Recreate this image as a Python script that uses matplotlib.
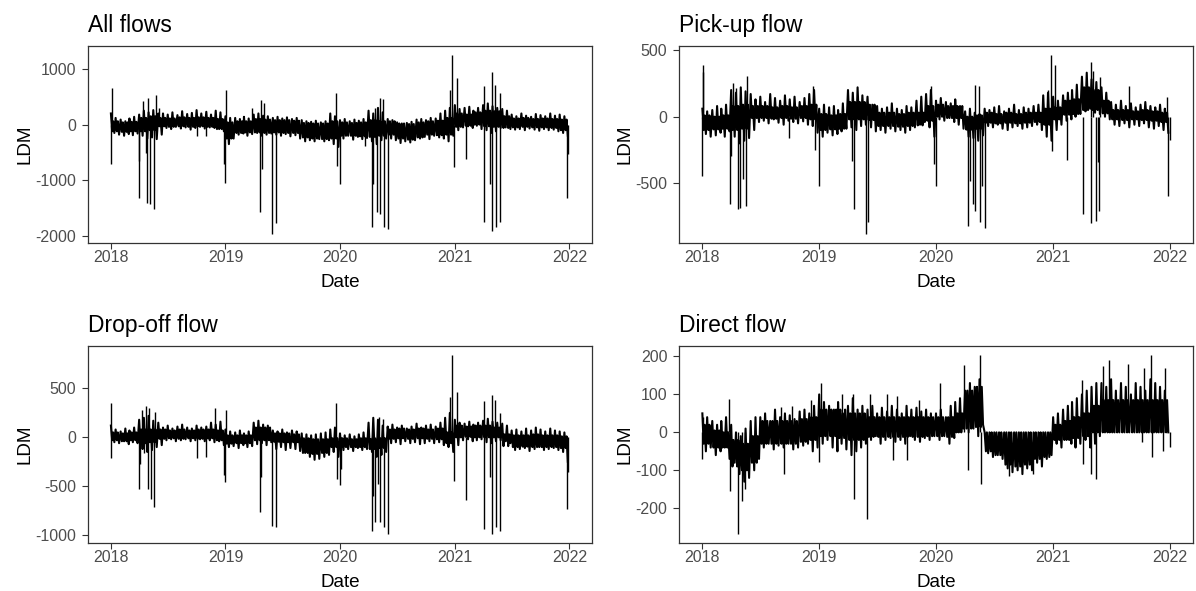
import numpy as np
import pandas as pd
import matplotlib

matplotlib.use("Agg")
import matplotlib.pyplot as plt  # noqa: E402
import matplotlib.dates as mdates  # noqa: E402

plt.rcParams["font.family"] = ["Liberation Sans", "DejaVu Sans"]
plt.rcParams["axes.unicode_minus"] = False

# Outer edge of the daily band, read every half month (1st and 16th), 2018-2021
ALL_HI = [200, 120, 90, 60, 110, 140, 180, 250, 220, 260, 200, 200, 180, 220, 170, 240, 190, 210, 260, 200, 230, 180, 250, 220,
          150, 120, 120, 100, 140, 110, 180, 200, 160, 150, 120, 140, 110, 130, 100, 120, 80, 60, 50, 70, 40, 60, 200, 150,
          80, 100, 60, 90, 70, 100, 250, 200, 300, 220, 100, 80, 40, 20, 30, 50, 90, 100, 80, 120, 110, 200, 250, 300,
          350, 280, 300, 320, 250, 300, 350, 380, 330, 300, 280, 250, 180, 150, 200, 160, 140, 190, 170, 150, 200, 160, 180, 150]
ALL_LO = [-150, -180, -200, -170, -190, -160, -200, -250, -230, -260, -180, -60, -80, -40, -70, -50, -90, -60, -40, -70, -50, -60, -80, -120,
          -350, -250, -180, -160, -200, -170, -150, -200, -180, -160, -180, -200, -170, -210, -190, -250, -300, -280, -300, -260, -300, -280, -350, -400,
          -250, -200, -270, -220, -260, -240, -300, -350, -280, -250, -250, -280, -330, -300, -320, -280, -250, -220, -260, -200, -230, -250, -300, -200,
          -100, -50, -30, -60, -20, -80, -100, -150, -120, -60, -50, -80, -90, -80, -100, -70, -90, -110, -80, -100, -90, -120, -150, -200]
# Solid core of the band, read monthly
ALL_CORE_HI = [60, 40, 50, 120, 150, 120, 110, 130, 120, 130, 120, 100,
               40, 60, 60, 100, 90, 80, 80, 70, 30, 20, 20, 60,
               40, 30, 40, 80, 60, 60, 20, 10, 40, 60, 70, 120,
               200, 180, 220, 250, 240, 150, 110, 120, 100, 110, 100, 90]
ALL_CORE_LO = [-120, -130, -120, -120, -100, -30, -40, -30, -40, -30, -40, -80,
               -250, -150, -140, -140, -150, -140, -150, -150, -230, -250, -260, -250,
               -200, -200, -210, -220, -200, -180, -250, -270, -230, -180, -190, -180,
               -40, -20, 0, -30, -40, -60, -50, -40, -50, -50, -60, -100]
ALL_SPIKES = [("2018-01-01", -714), ("2018-01-03", 655), ("2018-03-30", -650), ("2018-04-01", -1310), ("2018-04-13", 417),
              ("2018-04-22", -506), ("2018-04-26", -1400), ("2018-04-28", 476), ("2018-05-07", -1430), ("2018-05-19", -1520),
              ("2018-05-26", 536), ("2018-06-02", 300), ("2018-10-01", -210), ("2018-10-31", -210), ("2018-12-26", -714),
              ("2018-12-31", -1040), ("2019-01-03", 613), ("2019-03-28", 300), ("2019-04-20", -1577), ("2019-04-24", 446),
              ("2019-04-28", -790), ("2019-05-05", 387), ("2019-05-29", -1964), ("2019-06-10", -1774), ("2019-12-20", 565),
              ("2019-12-23", -744), ("2019-12-31", -1071), ("2020-03-22", -387), ("2020-04-11", -1845), ("2020-04-15", -1071),
              ("2020-04-21", 300), ("2020-04-29", -1577), ("2020-05-08", 476), ("2020-05-09", -1607), ("2020-05-18", 460),
              ("2020-05-20", -1845), ("2020-06-01", -1875), ("2020-12-18", 625), ("2020-12-24", 1250), ("2020-12-29", -762),
              ("2021-01-08", 845), ("2021-02-06", -625), ("2021-04-04", -1756), ("2021-04-05", 684), ("2021-04-24", -1071),
              ("2021-04-28", 940), ("2021-04-30", -1905), ("2021-05-10", 715), ("2021-05-12", -1845), ("2021-05-24", -1756),
              ("2021-05-26", 565), ("2021-12-24", -1310), ("2021-12-29", -536)]

PICK_HI = [60, 40, 50, 80, 60, 90, 200, 180, 220, 190, 170, 130, 150, 110, 170, 140, 120, 160, 130, 150, 110, 140, 170, 200,
           60, 90, 70, 80, 50, 100, 200, 180, 220, 160, 150, 90, 80, 60, 70, 100, 60, 50, 80, 70, 120, 150, 170, 200,
           120, 140, 110, 100, 130, 80, 40, 60, 30, 20, 60, 50, 70, 80, 40, 60, 90, 50, 70, 60, 80, 90, 160, 180,
           150, 120, 160, 180, 200, 240, 300, 330, 280, 260, 220, 180, 110, 90, 120, 80, 100, 70, 90, 110, 80, 70, 90, 60]
PICK_LO = [-130, -150, -140, -120, -150, -110, -150, -200, -180, -160, -100, -40, -30, -50, -20, -45, -60, -30, -40, -50, -35, -60, -70, -120,
           -150, -120, -140, -130, -110, -90, -80, -100, -70, -60, -80, -110, -100, -120, -90, -110, -100, -120, -100, -80, -60, -40, -80, -150,
           -20, -30, -10, -40, -60, -90, -150, -160, -180, -140, -70, -80, -60, -90, -100, -80, -70, -90, -80, -70, -60, -100, -150, -180,
           -100, -60, -30, -20, 0, 20, 40, 60, 30, 20, 0, -20, -60, -70, -50, -80, -60, -70, -50, -80, -90, -70, -100, -120]
PICK_CORE_HI = [10, 0, 10, 80, 90, 80, 80, 70, 80, 70, 80, 90,
                20, 10, 20, 110, 110, 90, 30, 30, 20, 30, 30, 80,
                90, 80, 80, 0, 10, 30, 20, 30, 20, 30, 30, 60,
                70, 120, 130, 220, 200, 120, 50, 50, 40, 50, 40, 30]
PICK_CORE_LO = [-100, -95, -90, -100, -90, -10, -10, -15, -10, -15, -10, -20,
                -100, -95, -90, -20, -20, -25, -70, -70, -75, -70, -65, -30,
                0, -10, -10, -97, -90, -45, -50, -45, -50, -45, -40, -60,
                -20, 15, 20, 50, 50, 25, -20, -25, -20, -25, -30, -40]
PICK_SPIKES = [("2018-01-01", -445), ("2018-01-02", 388), ("2018-01-04", 338), ("2018-03-29", -657), ("2018-04-01", -296),
               ("2018-04-08", 254), ("2018-04-15", 216), ("2018-04-22", -694), ("2018-04-30", -682), ("2018-05-07", -470),
               ("2018-05-16", -670), ("2018-05-20", 306), ("2018-09-28", -157), ("2018-12-12", 230), ("2018-12-20", -246),
               ("2018-12-31", -520), ("2019-04-15", -333), ("2019-04-20", -694), ("2019-05-26", -880), ("2019-06-03", -786),
               ("2019-12-15", 230), ("2019-12-27", -358), ("2019-12-31", -520), ("2020-04-10", -818), ("2020-04-15", -483),
               ("2020-04-27", -657), ("2020-05-02", -706), ("2020-05-03", 240), ("2020-05-14", 230), ("2020-05-19", -793),
               ("2020-05-24", -520), ("2020-06-01", -831), ("2020-12-16", 200), ("2020-12-24", 463), ("2020-12-27", -259),
               ("2021-01-08", 388), ("2021-02-12", -321), ("2021-04-05", -731), ("2021-04-28", -800), ("2021-04-30", 413),
               ("2021-05-05", 340), ("2021-05-15", -781), ("2021-05-21", -343), ("2021-05-24", -706), ("2021-05-26", 300),
               ("2021-08-25", 230), ("2021-12-24", 150), ("2021-12-26", -594), ("2021-12-31", -175)]

DROP_HI = [120, 80, 60, 90, 70, 100, 180, 200, 220, 170, 150, 100, 120, 90, 110, 130, 100, 90, 120, 100, 110, 150, 130, 160,
           80, 60, 50, 70, 40, 60, 150, 170, 130, 120, 70, 60, 80, 50, 70, 60, 40, 30, 20, 30, 40, 50, 80, 100,
           40, 20, 30, 10, 30, 50, 150, 200, 180, 120, 110, 130, 100, 120, 90, 110, 140, 100, 120, 130, 110, 150, 200, 250,
           180, 150, 140, 160, 130, 150, 170, 190, 160, 150, 140, 120, 70, 80, 60, 90, 70, 100, 80, 60, 90, 70, 60, 50]
DROP_LO = [-50, -60, -40, -70, -50, -60, -120, -150, -130, -100, -80, -30, -20, -40, -30, -20, -40, -30, -20, -40, -30, -50, -40, -80,
           -100, -90, -110, -80, -100, -90, -70, -60, -80, -50, -120, -100, -130, -110, -120, -140, -160, -200, -230, -220, -200, -180, -150, -200,
           -130, -120, -140, -110, -130, -120, -150, -200, -180, -150, -60, -50, -70, -40, -60, -50, -70, -60, -40, -60, -50, -80, -100, -150,
           -80, -30, -20, -40, -30, -20, -50, -60, -40, -30, -40, -60, -130, -120, -110, -140, -120, -100, -130, -120, -110, -130, -150, -250]
DROP_CORE_HI = [50, 40, 50, 80, 80, 80, 70, 80, 70, 80, 80, 70,
                20, 20, 20, 100, 100, 40, 40, 30, -10, -20, -20, -10,
                -10, -20, -10, -20, -10, 80, 90, 80, 90, 80, 90, 50,
                120, 110, 120, 120, 100, 30, 20, 20, 30, 20, 20, 10]
DROP_CORE_LO = [-30, -40, -30, -60, -50, -15, -10, -15, -10, -15, -10, -30,
                -65, -60, -60, -30, -30, -45, -50, -50, -160, -170, -160, -100,
                -100, -100, -100, -120, -110, -15, -10, -15, -10, -15, -20, -60,
                0, 5, 0, 0, 0, -90, -100, -95, -100, -100, -100, -110]
DROP_SPIKES = [("2018-01-01", -216), ("2018-01-02", 350), ("2018-03-31", -527), ("2018-04-03", -270), ("2018-04-10", 277),
               ("2018-04-18", -165), ("2018-04-22", 318), ("2018-04-28", -527), ("2018-05-02", 300), ("2018-05-10", -630),
               ("2018-05-19", -716), ("2018-05-22", 260), ("2018-10-01", -216), ("2018-10-31", -200), ("2018-11-30", 300),
               ("2018-12-26", -390), ("2018-12-31", -460), ("2019-01-03", 277), ("2019-04-20", -767), ("2019-04-24", -407),
               ("2019-05-29", -904), ("2019-06-10", -914), ("2019-12-20", 350), ("2019-12-23", -425), ("2019-12-31", -483),
               ("2020-01-04", -323), ("2020-04-11", -955), ("2020-04-15", -596), ("2020-04-23", -870), ("2020-05-02", -476),
               ("2020-05-05", 209), ("2020-05-08", -870), ("2020-05-17", 190), ("2020-05-19", -921), ("2020-06-01", -990),
               ("2020-12-18", 414), ("2020-12-24", 843), ("2020-12-29", -442), ("2021-01-07", 466), ("2021-02-06", -640),
               ("2021-04-04", -935), ("2021-04-05", 370), ("2021-04-24", -407), ("2021-04-28", 432), ("2021-04-30", -990),
               ("2021-05-10", 387), ("2021-05-12", -921), ("2021-05-24", -955), ("2021-05-26", 250), ("2021-12-24", -733),
               ("2021-12-29", -357)]

DIRECT_HI = [50, 40, 30, 20, 30, 40, 20, 0, -10, 10, 30, 40, 40, 50, 30, 60, 40, 50, 45, 35, 55, 60, 50, 70,
             100, 80, 70, 60, 80, 50, 70, 90, 60, 70, 60, 70, 50, 65, 55, 70, 60, 50, 70, 60, 65, 55, 60, 50,
             50, 60, 40, 70, 80, 90, 110, 130, 120, 140, 0, 0, 0, 0, 0, 0, 0, 0, 0, 0, 0, 0, 0, 0,
             40, 50, 60, 70, 80, 90, 100, 110, 120, 130, 130, 120, 140, 110, 130, 120, 100, 130, 120, 110, 140, 130, 120, 110]
DIRECT_LO = [-50, -40, -60, -50, -40, -70, -80, -110, -130, -120, -100, -70, -40, -30, -45, -35, -40, -30, -45, -40, -35, -30, -50, -40,
             -30, -20, -40, -50, -30, -45, -60, -50, -40, -30, -20, -10, -30, -20, -15, -25, -20, -30, -10, -20, -25, -15, -20, -10,
             -20, -10, -30, -15, 0, 10, 0, 10, -10, 20, -55, -65, -60, -70, -95, -105, -100, -110, -95, -100, -80, -90, -70, -60,
             -30, -40, -20, -30, -40, -30, -20, -40, -30, -10, 0, 0, 0, 0, 0, 0, 0, 0, 0, 0, 0, 0, 0, 0]
DIRECT_CORE_HI = [20, 5, 0, -20, -30, -10, 30, 30, 30, 30, 35, 40,
                  60, 60, 60, 50, 50, 40, 40, 40, 40, 40, 40, 40,
                  40, 40, 50, 110, 120, 0, 0, 0, 0, 0, 0, 0,
                  20, 30, 40, 50, 70, 85, 85, 85, 85, 85, 85, 85]
DIRECT_CORE_LO = [-30, -40, -40, -90, -100, -80, -30, -30, -30, -30, -25, -20,
                  -10, -10, -15, -20, -20, -12, -12, -12, -12, -12, -12, -10,
                  -10, -12, 0, 10, 14, -50, -60, -85, -90, -85, -70, -65,
                  -20, -20, -15, -10, 0, 0, 0, 0, 0, 0, 0, 0]
DIRECT_SPIKES = [("2018-01-01", -70), ("2018-01-03", 40), ("2018-03-25", 87), ("2018-03-27", -154), ("2018-04-22", -268),
                 ("2018-05-05", -180), ("2018-05-15", -150), ("2018-09-05", 67), ("2018-09-13", -110), ("2018-10-08", 70),
                 ("2018-12-05", 85), ("2018-12-31", -79), ("2019-01-07", 129), ("2019-03-14", 100), ("2019-04-17", 100),
                 ("2019-04-20", -176), ("2019-05-31", -228), ("2019-06-10", 100), ("2019-08-01", 100), ("2019-08-20", -74),
                 ("2019-09-01", 95), ("2019-10-01", -74), ("2019-11-10", 85), ("2020-01-12", 129), ("2020-03-30", 178),
                 ("2020-04-10", -100), ("2020-05-19", 204), ("2020-05-21", -136), ("2020-08-17", -114), ("2020-10-30", -110),
                 ("2021-04-01", 138), ("2021-04-04", -83), ("2021-04-29", -110), ("2021-05-15", -123), ("2021-06-05", 175),
                 ("2021-06-25", 190), ("2021-08-22", 181), ("2021-10-05", -26), ("2021-10-12", 170), ("2021-11-03", 204),
                 ("2021-11-05", -65), ("2021-12-10", -48), ("2021-12-17", 170), ("2021-12-31", -39)]

PANELS = [
    ("All flows", ALL_HI, ALL_LO, ALL_CORE_HI, ALL_CORE_LO, ALL_SPIKES, [-2000, -1000, 0, 1000]),
    ("Pick-up flow", PICK_HI, PICK_LO, PICK_CORE_HI, PICK_CORE_LO, PICK_SPIKES, [-500, 0, 500]),
    ("Drop-off flow", DROP_HI, DROP_LO, DROP_CORE_HI, DROP_CORE_LO, DROP_SPIKES, [-1000, -500, 0, 500]),
    ("Direct flow", DIRECT_HI, DIRECT_LO, DIRECT_CORE_HI, DIRECT_CORE_LO, DIRECT_SPIKES, [-200, -100, 0, 100, 200]),
]

W, H = 1196, 591
# panel boxes in pixels: left, top, right, bottom
BOXES = [(88, 46, 592, 243), (679, 46, 1193, 243), (88, 346, 592, 543), (679, 346, 1193, 543)]

GREY = "#4D4D4D"
EDGE = "#333333"


def band_series(hi, lo, core_hi, core_lo):
    """Order the read-off values in time: each half month goes edge-top, core-low,
    core-high, edge-bottom, so the line sweeps the core twice as often as the edges."""
    months = pd.date_range("2018-01-01", "2021-12-01", freq="MS")
    halfs = months.append(months + pd.Timedelta(days=15)).sort_values()
    day = pd.Timedelta(days=1)
    dates, vals = [], []
    for k, d in enumerate(halfs):
        m = k // 2
        dates += [d, d + 4 * day, d + 7 * day, d + 11 * day]
        vals += [hi[k], core_lo[m], core_hi[m], lo[k]]
    return pd.Series(vals, index=pd.DatetimeIndex(dates))


fig = plt.figure(figsize=(W / 100, H / 100), dpi=100)
start, end = pd.Timestamp("2018-01-01"), pd.Timestamp("2021-12-31")
span = end - start

for (title, hi, lo, core_hi, core_lo, spikes, yticks), (l, t, r, b) in zip(PANELS, BOXES):
    ax = fig.add_axes([l / W, 1 - b / H, (r - l) / W, (b - t) / H])
    s = band_series(hi, lo, core_hi, core_lo)
    ax.plot(s.index, s.values, color="black", lw=1.5)
    sp_dates = pd.to_datetime([d for d, _ in spikes])
    ax.vlines(sp_dates, 0, [v for _, v in spikes], color="black", lw=1.0)
    ax.set_xlim(start - span * 0.05, end + span * 0.05)
    ax.margins(y=0.05)
    ax.set_yticks(yticks)
    ax.xaxis.set_major_locator(mdates.YearLocator())
    ax.xaxis.set_major_formatter(mdates.DateFormatter("%Y"))
    ax.tick_params(length=4, width=0.8, color=EDGE, labelcolor=GREY, labelsize=11.5)
    ax.tick_params(axis="x", pad=1.3)
    ax.tick_params(axis="y", pad=4.3)
    for sp in ax.spines.values():
        sp.set_color(EDGE)
        sp.set_linewidth(0.9)
    ax.set_title(title, loc="left", fontsize=16.5, pad=10)
    ax.set_xlabel("Date", fontsize=13.6, labelpad=6.5)
    ax.set_ylabel("LDM", fontsize=13.6, labelpad=1.5)

fig.savefig("out.png", dpi=100)
